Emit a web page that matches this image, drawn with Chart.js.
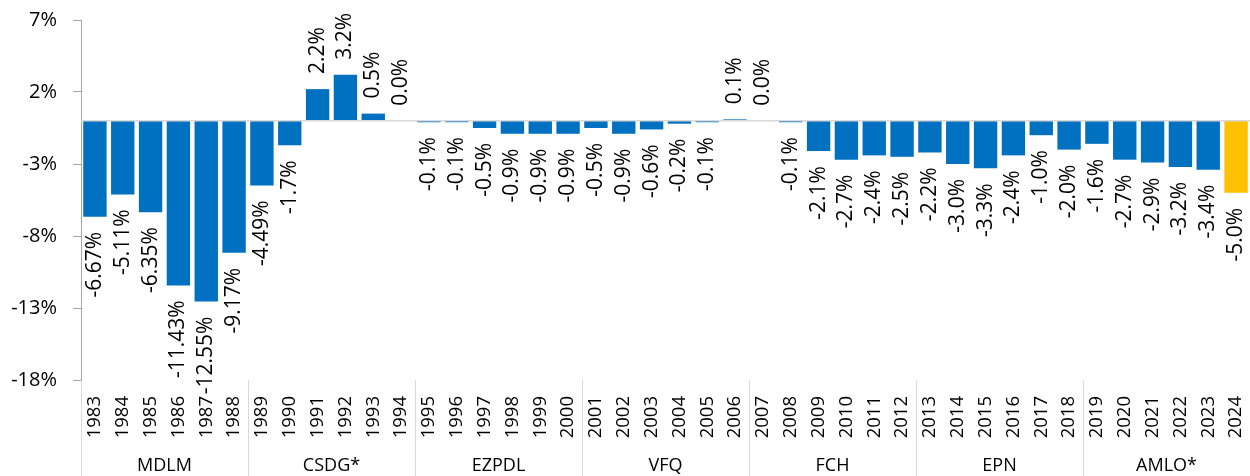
<!DOCTYPE html>
<html>
<head>
<meta charset="utf-8">
<title>Balance fiscal por año y sexenio</title>
<script src="https://cdn.jsdelivr.net/npm/chart.js@4.4.1/dist/chart.umd.min.js"></script>
<style>
  html, body { margin: 0; padding: 0; background: #ffffff; }
  #wrap { width: 1250px; height: 476px; }
</style>
</head>
<body>
<div id="wrap"><canvas id="chart" width="1250" height="476"></canvas></div>
<script>
// Years shown on the category axis
const years = [
  '1983','1984','1985','1986','1987','1988',
  '1989','1990','1991','1992','1993','1994',
  '1995','1996','1997','1998','1999','2000',
  '2001','2002','2003','2004','2005','2006',
  '2007','2008','2009','2010','2011','2012',
  '2013','2014','2015','2016','2017','2018',
  '2019','2020','2021','2022','2023','2024'
];

// Balance as % of GDP, one value per year
const balance = [
  -6.67, -5.11, -6.35, -11.43, -12.55, -9.17,
  -4.49, -1.7, 2.2, 3.2, 0.5, 0.0,
  -0.1, -0.1, -0.5, -0.9, -0.9, -0.9,
  -0.5, -0.9, -0.6, -0.2, -0.1, 0.1,
  0.0, -0.1, -2.1, -2.7, -2.4, -2.5,
  -2.2, -3.0, -3.3, -2.4, -1.0, -2.0,
  -1.6, -2.7, -2.9, -3.2, -3.4, -5.0
];

// Decimals printed in each value label
const labelDecimals = [
  2, 2, 2, 2, 2, 2,
  2, 1, 1, 1, 1, 1,
  1, 1, 1, 1, 1, 1,
  1, 1, 1, 1, 1, 1,
  1, 1, 1, 1, 1, 1,
  1, 1, 1, 1, 1, 1,
  1, 1, 1, 1, 1, 1
];

// Administrations, each spanning six consecutive years
const terms = ['MDLM', 'CSDG*', 'EZPDL', 'VFQ', 'FCH', 'EPN', 'AMLO*'];
const yearsPerTerm = 6;

// Value axis range and tick step
const yMin = -18;
const yMax = 7;
const yStep = 5;

const highlightYear = '2024';

const BLUE = '#0070C0';
const GOLD = '#FFC000';
const AXIS_GRAY = '#a6a6a6';
const LIGHT_GRAY = '#d9d9d9';
const FONT = '"Open Sans", Lato, "Liberation Sans", sans-serif';

const barColors = years.map(y => (y === highlightYear ? GOLD : BLUE));

// Horizontal line at zero, group separators and administration names
const framePlugin = {
  id: 'frame',
  afterDatasetsDraw(chart) {
    const { ctx, chartArea, scales } = chart;
    const x = scales.x;
    const y = scales.y;
    const y0 = y.getPixelForValue(0);
    ctx.save();
    ctx.strokeStyle = LIGHT_GRAY;
    ctx.lineWidth = 1.5;
    ctx.beginPath();
    ctx.moveTo(chartArea.left, y0);
    ctx.lineTo(chartArea.right, y0);
    ctx.stroke();

    const step = x.getPixelForValue(1) - x.getPixelForValue(0);
    ctx.lineWidth = 1;
    for (let k = 0; k <= terms.length; k++) {
      const idx = k * yearsPerTerm;
      const px = Math.round(x.getPixelForValue(idx) - step / 2) + 0.5;
      ctx.beginPath();
      ctx.moveTo(px, chartArea.bottom);
      ctx.lineTo(px, chart.height);
      ctx.stroke();
    }

    ctx.fillStyle = '#000000';
    ctx.font = '18px ' + FONT;
    ctx.textAlign = 'center';
    ctx.textBaseline = 'middle';
    terms.forEach((name, k) => {
      const first = x.getPixelForValue(k * yearsPerTerm);
      const last = x.getPixelForValue(k * yearsPerTerm + yearsPerTerm - 1);
      ctx.fillText(name, (first + last) / 2, 466);
    });
    ctx.restore();
  }
};

// Rotated value labels just beyond the end of each bar
const valueLabelPlugin = {
  id: 'valueLabels',
  afterDatasetsDraw(chart) {
    const { ctx } = chart;
    const meta = chart.getDatasetMeta(0);
    const gap = 15;
    ctx.save();
    ctx.fillStyle = '#000000';
    ctx.font = '21px ' + FONT;
    ctx.textBaseline = 'middle';
    meta.data.forEach((bar, i) => {
      const v = balance[i];
      const text = v.toFixed(labelDecimals[i]) + '%';
      ctx.save();
      if (v < 0) {
        ctx.translate(bar.x, bar.y + gap);
        ctx.rotate(-Math.PI / 2);
        ctx.textAlign = 'right';
      } else {
        ctx.translate(bar.x, bar.y - gap);
        ctx.rotate(-Math.PI / 2);
        ctx.textAlign = 'left';
      }
      ctx.fillText(text, 0, 0);
      ctx.restore();
    });
    ctx.restore();
  }
};

new Chart(document.getElementById('chart'), {
  type: 'bar',
  data: {
    labels: years,
    datasets: [{
      data: balance,
      backgroundColor: barColors,
      borderWidth: 0,
      barPercentage: 0.84,
      categoryPercentage: 1.0
    }]
  },
  options: {
    responsive: false,
    animation: false,
    devicePixelRatio: 1,
    layout: { padding: { top: 20, right: 0, bottom: 0, left: 0 } },
    plugins: {
      legend: { display: false },
      tooltip: { enabled: false }
    },
    scales: {
      x: {
        grid: { display: false, drawTicks: false },
        border: { display: false },
        ticks: {
          autoSkip: false,
          minRotation: 90,
          maxRotation: 90,
          padding: 16,
          color: '#000000',
          font: { family: FONT, size: 18.5 }
        },
        afterFit(scale) {
          scale.height = 96;
          scale.paddingLeft = 0;
          scale.paddingRight = 0;
        }
      },
      y: {
        min: yMin,
        max: yMax,
        grid: {
          display: true,
          drawOnChartArea: false,
          drawTicks: true,
          tickLength: 8,
          color: AXIS_GRAY
        },
        border: { display: true, color: AXIS_GRAY, width: 1 },
        ticks: {
          stepSize: yStep,
          padding: 16,
          color: '#000000',
          font: { family: FONT, size: 20 },
          callback: v => v + '%'
        },
        afterFit(scale) {
          scale.width = 81;
          scale.paddingTop = 0;
          scale.paddingBottom = 0;
        }
      }
    }
  },
  plugins: [framePlugin, valueLabelPlugin]
});
</script>
</body>
</html>
